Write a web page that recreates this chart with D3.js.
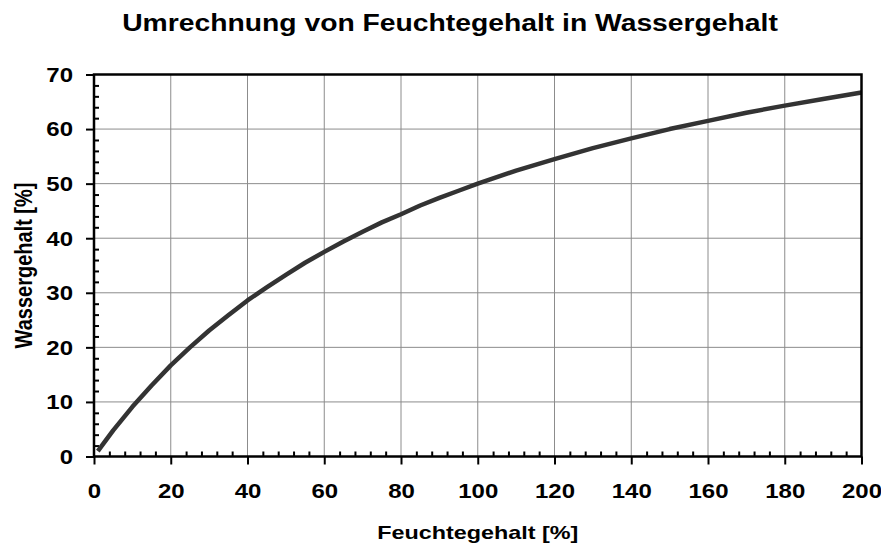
<!DOCTYPE html>
<html>
<head>
<meta charset="utf-8">
<title>Umrechnung von Feuchtegehalt in Wassergehalt</title>
<script src="https://cdn.jsdelivr.net/npm/d3@7"></script>
<style>
  body { margin: 0; background: #fff; }
  svg { display: block; }
  text { font-family: "Liberation Sans", Arial, sans-serif; font-weight: bold; fill: #000; }
</style>
</head>
<body>
<svg id="chart" width="881" height="547"></svg>
<script>
// values
var feuchte = [1, 5, 10, 15, 20, 25, 30, 35, 40, 45, 50, 55, 60, 65, 70, 75, 80, 85, 90, 95,
               100, 110, 120, 130, 140, 150, 160, 170, 180, 190, 200]
var wasser  = [1.0, 4.8, 9.1, 13.0, 16.7, 20.0, 23.1, 25.9, 28.6, 31.0, 33.3, 35.5, 37.5, 39.4, 41.2, 42.9, 44.4, 46.0, 47.4, 48.7,
               50.0, 52.4, 54.5, 56.5, 58.3, 60.0, 61.5, 63.0, 64.3, 65.5, 66.7]
var xTicks = [0, 20, 40, 60, 80, 100, 120, 140, 160, 180, 200]
var yTicks = [0, 10, 20, 30, 40, 50, 60, 70]

var titleText = 'Umrechnung von Feuchtegehalt in Wassergehalt'
var xLabel = 'Feuchtegehalt [%]'
var yLabel = 'Wassergehalt [%]'

function drawChart() {
  var svg = d3.select('#chart')
  var pLeft = 94, pRight = 861.5, pTop = 74.5, pBottom = 456.5
  var stretch = 1.23   // the reference glyphs are wider than they are tall

  var x = d3.scaleLinear().domain([0, 200]).range([pLeft, pRight])
  var y = d3.scaleLinear().domain([0, 70]).range([pBottom, pTop])

  // grid
  svg.append('g').selectAll('line').data(xTicks.slice(1, -1)).enter().append('line')
    .attr('x1', d => x(d)).attr('x2', d => x(d)).attr('y1', pTop).attr('y2', pBottom)
    .attr('stroke', '#8c8c8c').attr('stroke-width', 1)
  svg.append('g').selectAll('line').data(yTicks.slice(1, -1)).enter().append('line')
    .attr('x1', pLeft).attr('x2', pRight).attr('y1', d => y(d)).attr('y2', d => y(d))
    .attr('stroke', '#8c8c8c').attr('stroke-width', 1)

  // minor ticks (inside): every 4 on x, every 2 on y
  var xMinor = d3.range(0, 201, 4).filter(d => d % 20 != 0)
  var yMinor = d3.range(0, 71, 2).filter(d => d % 10 != 0)
  svg.append('g').attr('transform', 'translate(0,' + pBottom + ')')
    .call(d3.axisBottom(x).tickValues(xMinor).tickSize(-5).tickFormat(''))
  svg.append('g').attr('transform', 'translate(' + pLeft + ',0)')
    .call(d3.axisLeft(y).tickValues(yMinor).tickSize(-5).tickFormat(''))

  // major ticks (outside) with labels
  var gx = svg.append('g').attr('transform', 'translate(0,' + pBottom + ')')
    .call(d3.axisBottom(x).tickValues(xTicks).tickSize(8).tickPadding(20).tickFormat(d3.format('d')))
  var gy = svg.append('g').attr('transform', 'translate(' + pLeft + ',0)')
    .call(d3.axisLeft(y).tickValues(yTicks).tickSize(8).tickPadding(13).tickFormat(d3.format('d')))

  svg.selectAll('.domain').remove()
  svg.selectAll('.tick line').attr('stroke', '#000').attr('stroke-width', 2)
  svg.selectAll('.tick text')
    .attr('font-size', 19.5).attr('font-family', '"Liberation Sans", Arial, sans-serif')
    .attr('font-weight', 'bold').attr('fill', '#000')
  gx.selectAll('.tick text').attr('dy', '0.71em')
  gy.selectAll('.tick text').attr('dy', '0.35em')

  // widen the horizontal tick labels around their anchor
  gx.selectAll('.tick text').attr('transform', 'scale(' + stretch + ',1)')
  gy.selectAll('.tick text').each(function() {
    var t = d3.select(this)
    t.attr('x', +t.attr('x') / stretch).attr('transform', 'scale(' + stretch + ',1)')
  })

  // curve
  var line = d3.line().x((d, i) => x(feuchte[i])).y(d => y(d))
  svg.append('path').datum(wasser)
    .attr('d', line)
    .attr('fill', 'none').attr('stroke', '#333333').attr('stroke-width', 4.5)
    .attr('stroke-linejoin', 'round').attr('stroke-linecap', 'butt')

  // frame
  svg.append('rect')
    .attr('x', pLeft).attr('y', pTop).attr('width', pRight - pLeft).attr('height', pBottom - pTop)
    .attr('fill', 'none').attr('stroke', '#000').attr('stroke-width', 2.5)

  // texts
  svg.append('text').text(titleText)
    .attr('transform', 'translate(450,31) scale(' + stretch + ',1)')
    .attr('text-anchor', 'middle').attr('font-size', 23)
  svg.append('text').text(xLabel)
    .attr('transform', 'translate(' + ((pLeft + pRight) / 2) + ',539) scale(' + stretch + ',1)')
    .attr('text-anchor', 'middle').attr('font-size', 19)
  svg.append('text').text(yLabel)
    .attr('transform', 'translate(32,' + ((pTop + pBottom) / 2) + ') rotate(-90) scale(1,' + stretch + ')')
    .attr('text-anchor', 'middle').attr('font-size', 20)
}

drawChart()
</script>
</body>
</html>
